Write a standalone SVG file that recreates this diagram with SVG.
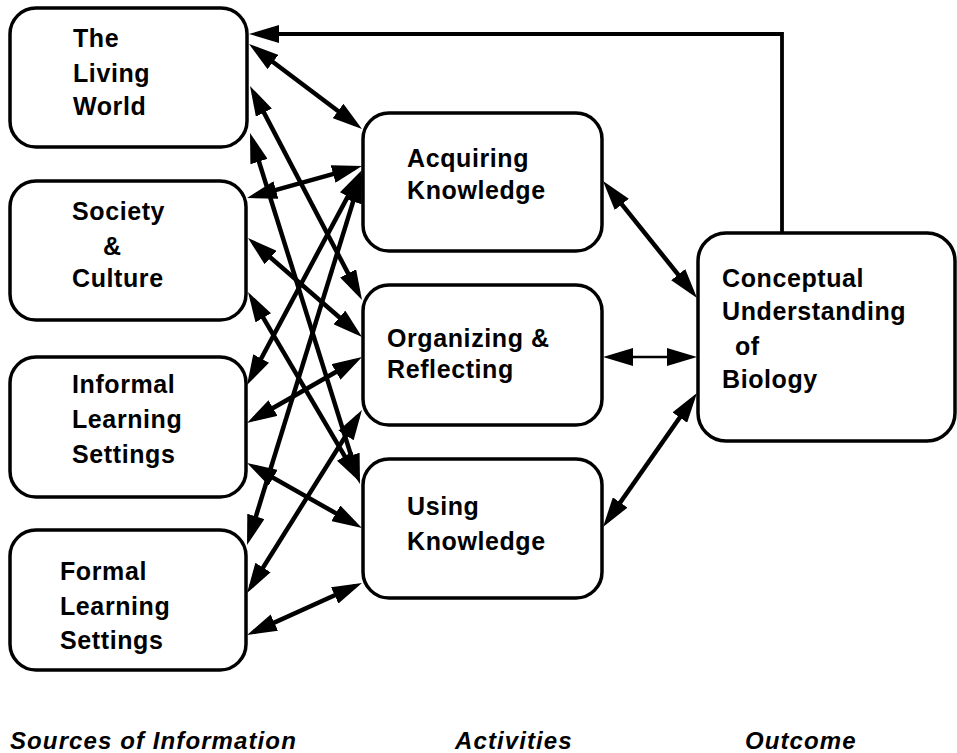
<svg xmlns="http://www.w3.org/2000/svg" width="957" height="753" viewBox="0 0 957 753">
  <style>
    .box { fill: #fff; stroke: #000; stroke-width: 3.5; }
    .lbl { font-family: "Liberation Sans", Arial, Helvetica, sans-serif; font-weight: bold; font-size: 25px; letter-spacing: 0.6px; fill: #000; }
    .cap { font-family: "Liberation Sans", Arial, Helvetica, sans-serif; font-weight: bold; font-style: italic; font-size: 24px; letter-spacing: 1.1px; fill: #000; }
    .link { fill: none; stroke: #000; stroke-width: 4.5; marker-start: url(#head); marker-end: url(#head); }
    .thin { stroke-width: 2.4; }
    .feedback { fill: none; stroke: #000; stroke-width: 3.8; marker-end: url(#head); }
  </style>
  <defs>
    <marker id="head" markerUnits="userSpaceOnUse" markerWidth="30" markerHeight="18" viewBox="0 0 30 18" refX="22" refY="9" orient="auto-start-reverse">
      <path d="M0,0 L30,9 L0,18 z" fill="#000"/>
    </marker>
  </defs>

  <rect width="957" height="753" fill="#fff"/>

  <!-- connectors -->
  <g id="connectors">
    <!-- The Living World -->
    <line class="link" x1="255.4" y1="48.8" x2="355.6" y2="124.2"/>
    <line class="link" x1="253.7" y1="93.1" x2="358.3" y2="292.9"/>
    <line class="link" x1="252.4" y1="140.6" x2="357.6" y2="476.4"/>
    <!-- Society & Culture -->
    <line class="link" x1="254.7" y1="195.9" x2="354.3" y2="168.1"/>
    <line class="link" x1="254" y1="243.2" x2="356" y2="331.8"/>
    <line class="link" x1="252.1" y1="298.9" x2="355.9" y2="475.1"/>
    <!-- Informal Learning Settings -->
    <line class="link" x1="250.8" y1="377.9" x2="358.2" y2="177.1"/>
    <line class="link" x1="253.9" y1="419" x2="355.1" y2="361"/>
    <line class="link" x1="254" y1="466.9" x2="355" y2="524.1"/>
    <!-- Formal Learning Settings -->
    <line class="link" x1="249.4" y1="537.4" x2="359.6" y2="180.6"/>
    <line class="link" x1="251.3" y1="586.2" x2="357.7" y2="416.8"/>
    <line class="link" x1="254.3" y1="631.7" x2="354.7" y2="586.3"/>
    <!-- activities to outcome -->
    <line class="link" x1="608" y1="187.2" x2="692" y2="291.8"/>
    <line class="link thin" x1="611" y1="357" x2="689" y2="357"/>
    <line class="link" x1="607.6" y1="520.5" x2="692.4" y2="399.5"/>
    <!-- outcome feeds back to the living world -->
    <path class="feedback" d="M782,233 V34 H257"/>
  </g>

  <!-- sources of information -->
  <g id="living-world">
    <rect class="box" x="10" y="8" width="237" height="139" rx="26"/>
    <text class="lbl" x="73" y="47">The</text>
    <text class="lbl" x="73" y="82">Living</text>
    <text class="lbl" x="73" y="115">World</text>
  </g>
  <g id="society-culture">
    <rect class="box" x="10" y="181" width="236" height="139" rx="26"/>
    <text class="lbl" x="72" y="220">Society</text>
    <text class="lbl" x="103" y="255">&amp;</text>
    <text class="lbl" x="72" y="287">Culture</text>
  </g>
  <g id="informal-learning">
    <rect class="box" x="10" y="357" width="236" height="140" rx="26"/>
    <text class="lbl" x="72" y="393">Informal</text>
    <text class="lbl" x="72" y="428">Learning</text>
    <text class="lbl" x="72" y="463">Settings</text>
  </g>
  <g id="formal-learning">
    <rect class="box" x="10" y="530" width="236" height="140" rx="26"/>
    <text class="lbl" x="60" y="580">Formal</text>
    <text class="lbl" x="60" y="615">Learning</text>
    <text class="lbl" x="60" y="649">Settings</text>
  </g>

  <!-- activities -->
  <g id="acquiring">
    <rect class="box" x="363" y="113" width="239" height="138" rx="26"/>
    <text class="lbl" x="407" y="167">Acquiring</text>
    <text class="lbl" x="407" y="199">Knowledge</text>
  </g>
  <g id="organizing">
    <rect class="box" x="363" y="285" width="239" height="140" rx="26"/>
    <text class="lbl" x="387" y="347">Organizing &amp;</text>
    <text class="lbl" x="387" y="378">Reflecting</text>
  </g>
  <g id="using">
    <rect class="box" x="363" y="459" width="239" height="139" rx="26"/>
    <text class="lbl" x="407" y="515">Using</text>
    <text class="lbl" x="407" y="550">Knowledge</text>
  </g>

  <!-- outcome -->
  <g id="conceptual-understanding">
    <rect class="box" x="698" y="233" width="257" height="208" rx="28"/>
    <text class="lbl" x="722" y="287">Conceptual</text>
    <text class="lbl" x="722" y="320">Understanding</text>
    <text class="lbl" x="735" y="355">of</text>
    <text class="lbl" x="722" y="388">Biology</text>
  </g>

  <!-- column captions -->
  <g id="captions">
    <text class="cap" x="10" y="749">Sources of Information</text>
    <text class="cap" x="455" y="749">Activities</text>
    <text class="cap" x="745" y="749">Outcome</text>
  </g>
</svg>
